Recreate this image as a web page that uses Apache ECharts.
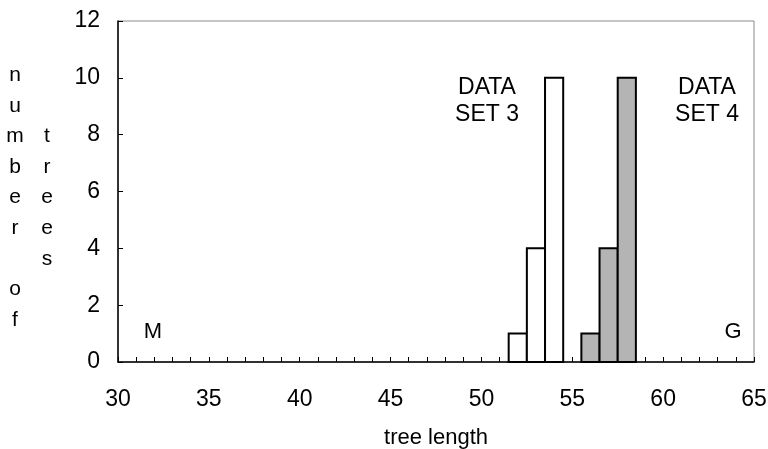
<!DOCTYPE html>
<html>
<head>
<meta charset="utf-8">
<script src="https://cdn.jsdelivr.net/npm/echarts@6/dist/echarts.min.js"></script>
<style>
  html, body { margin: 0; padding: 0; background: #fff; }
  #chart { width: 768px; height: 449px; }
</style>
</head>
<body>
<div id="chart"></div>
<script>
// Tree-length histograms for two data sets
const lengthsSet3 = [52, 53, 54];
const countsSet3 = [1, 4, 10];
const lengthsSet4 = [56, 57, 58];
const countsSet4 = [1, 4, 10];

const xTicks = [30, 35, 40, 45, 50, 55, 60, 65];
const yTicks = [0, 2, 4, 6, 8, 10, 12];

const FONT = 'Liberation Sans';

function pairs(xs, ys) {
  return xs.map((x, i) => [x, ys[i]]);
}

// one bin is one unit wide, centred on its length
function histBar(fill) {
  return function (params, api) {
    const x = api.value(0);
    const y = api.value(1);
    const p0 = api.coord([x - 0.5, 0]);
    const p1 = api.coord([x + 0.5, y]);
    return {
      type: 'rect',
      shape: { x: p0[0], y: p1[1], width: p1[0] - p0[0], height: p0[1] - p1[1] },
      style: { fill: fill, stroke: '#000', lineWidth: 2 }
    };
  };
}

function label(text, x, y, size, extra) {
  return {
    type: 'text', x: x, y: y,
    style: Object.assign({
      text: text, fontFamily: FONT, fontSize: size, fill: '#000',
      align: 'center', verticalAlign: 'top'
    }, extra || {})
  };
}

const chart = echarts.init(document.getElementById('chart'));
chart.setOption({
  animation: false,
  backgroundColor: '#fff',
  grid: {
    left: 118, right: 14, top: 21, bottom: 87,
    containLabel: false,
    outerBoundsMode: 'none',
    show: true, borderColor: '#8a8a8a', borderWidth: 1
  },
  xAxis: {
    type: 'value',
    min: xTicks[0], max: xTicks[xTicks.length - 1], interval: 5,
    name: 'tree length',
    nameLocation: 'middle',
    nameGap: 65,
    nameTextStyle: { fontFamily: FONT, fontSize: 22, color: '#000' },
    axisLine: { show: true, lineStyle: { color: '#000', width: 1.5 } },
    axisTick: { show: true, inside: true, length: 5, lineStyle: { color: '#000' } },
    minorTick: { show: true, splitNumber: 5, length: 5, lineStyle: { color: '#000' } },
    splitLine: { show: false },
    axisLabel: { margin: 26, fontFamily: FONT, fontSize: 23, color: '#000' }
  },
  yAxis: {
    type: 'value',
    min: yTicks[0], max: yTicks[yTicks.length - 1], interval: 2,
    axisLine: { show: true, lineStyle: { color: '#000', width: 1.5 } },
    axisTick: { show: true, inside: true, length: 5, lineStyle: { color: '#000' } },
    splitLine: { show: false },
    axisLabel: { margin: 18, fontFamily: FONT, fontSize: 23, color: '#000' }
  },
  series: [
    {
      name: 'DATA SET 3',
      type: 'custom',
      renderItem: histBar('#ffffff'),
      data: pairs(lengthsSet3, countsSet3),
      z: 3
    },
    {
      name: 'DATA SET 4',
      type: 'custom',
      renderItem: histBar('#b4b4b4'),
      data: pairs(lengthsSet4, countsSet4),
      z: 3
    }
  ],
  graphic: [
    label('n\nu\nm\nb\ne\nr\n\no\nf', 15, 60, 21, { lineHeight: 30.6 }),
    label('\n\nt\nr\ne\ne\ns', 47, 60, 21, { lineHeight: 30.6 }),
    label('DATA\nSET 3', 487, 74, 23, { lineHeight: 27 }),
    label('DATA\nSET 4', 707, 74, 23, { lineHeight: 27 }),
    label('M', 153, 321, 22),
    label('G', 733, 321, 22)
  ]
});
</script>
</body>
</html>
